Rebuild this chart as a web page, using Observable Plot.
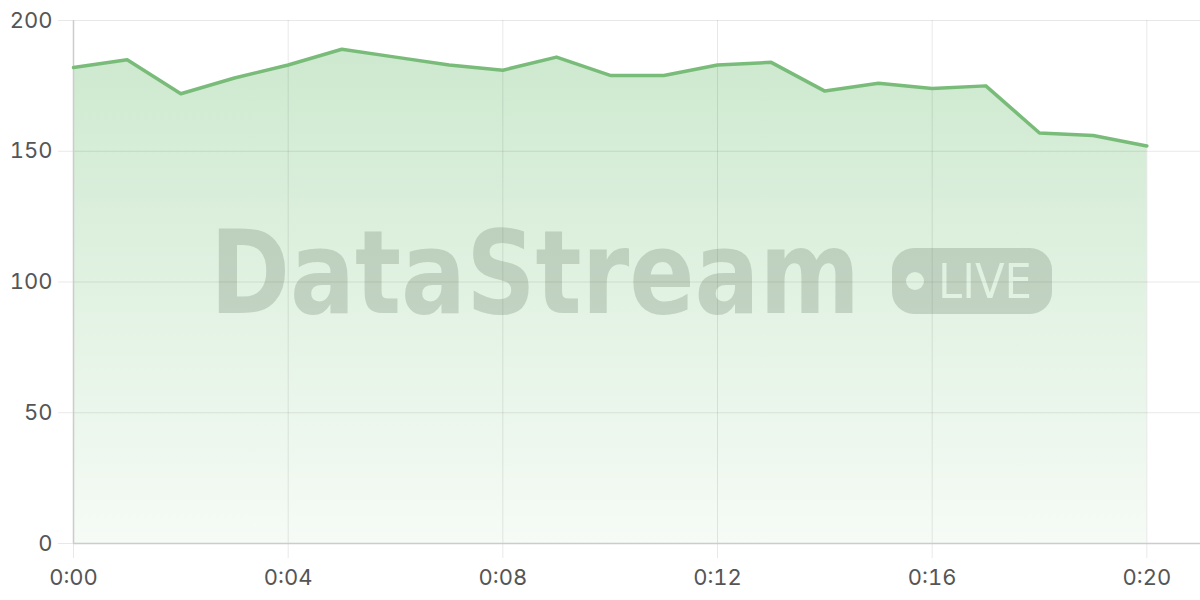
<!DOCTYPE html>
<html><head><meta charset="utf-8">
<script src="https://cdn.jsdelivr.net/npm/d3@7"></script>
<script src="https://cdn.jsdelivr.net/npm/@observablehq/plot@0.6"></script>
<style>
body{margin:0;background:#fff;}
#wrap{position:relative;width:1200px;height:600px;}
#wm{position:absolute;left:0;top:0;pointer-events:none;}
</style>
</head><body>
<div id="wrap"></div>
<script>
const minutes = [0,1,2,3,4,5,6,7,8,9,10,11,12,13,14,15,16,17,18,19,20];
const values = [182,185,172,178,183,189,186,183,181,186,179,179,183,184,173,176,174,175,157,156,152];
const xTicks = [0,4,8,12,16,20];
const yTicks = [0,50,100,150,200];
const data = minutes.map((m,i)=>({m, v: values[i]}));
const fmt = m => `0:${String(m).padStart(2,"0")}`;

const plot = Plot.plot({
  width:1200, height:600,
  marginLeft:73, marginRight:0, marginTop:20, marginBottom:57,
  style:{fontFamily:"Inter, 'Open Sans', sans-serif", fontSize:"22px", background:"#fff", overflow:"visible"},
  x:{domain:[0,21]},
  y:{domain:[0,200]},
  marks:[
    Plot.areaY(data,{x:"m", y:"v", fill:"url(#areaGrad)"}),
    Plot.gridX(xTicks,{stroke:"#000", strokeOpacity:0.09}),
    Plot.gridY(yTicks,{stroke:"#000", strokeOpacity:0.09}),
    Plot.axisX(xTicks,{tickSize:15, tickPadding:11, tickFormat:fmt, stroke:"#000", strokeOpacity:0.09, fill:"#555", label:null}),
    Plot.axisY(yTicks,{tickSize:15, tickPadding:6, stroke:"#000", strokeOpacity:0.09, fill:"#555", label:null}),
    Plot.ruleX([0],{stroke:"#ccc", strokeWidth:1.5}),
    Plot.ruleY([0],{stroke:"#ccc", strokeWidth:1.5}),
    Plot.lineY(data,{x:"m", y:"v", stroke:"#79bc79", strokeWidth:3.5})
  ]
});

const y = plot.scale("y");
const defs = d3.select(plot).insert("defs",":first-child");
const g = defs.append("linearGradient").attr("id","areaGrad")
  .attr("gradientUnits","userSpaceOnUse")
  .attr("x1",0).attr("x2",0)
  .attr("y1", y.apply(200)).attr("y2", y.apply(0));
g.append("stop").attr("offset","0").attr("stop-color","#66bb6a").attr("stop-opacity",0.34);
g.append("stop").attr("offset","1").attr("stop-color","#66bb6a").attr("stop-opacity",0.06);

const wrap = document.getElementById("wrap");
wrap.appendChild(plot);

// watermark overlay
const wm = d3.select(wrap).append("svg").attr("id","wm").attr("width",1200).attr("height",600);
const mask = wm.append("defs").append("mask").attr("id","pillMask");
mask.append("rect").attr("x",0).attr("y",0).attr("width",1200).attr("height",600).attr("fill","#fff");
mask.append("circle").attr("cx",915).attr("cy",281).attr("r",9).attr("fill","#000");
mask.append("text").attr("x",938).attr("y",298).attr("textLength",94).attr("lengthAdjust","spacingAndGlyphs")
  .attr("font-family","'DejaVu Sans Condensed','DejaVu Sans',sans-serif").attr("font-size",48).attr("font-weight",500)
  .attr("fill","#000").text("LIVE");
const wmColor = "rgba(95,115,95,0.25)";
wm.append("text").attr("x",210).attr("y",313).attr("textLength",650).attr("lengthAdjust","spacingAndGlyphs")
  .attr("font-family","'DejaVu Sans Condensed','DejaVu Sans',sans-serif").attr("font-weight","bold").attr("font-size",116)
  .attr("fill",wmColor).text("DataStream");
wm.append("rect").attr("x",892).attr("y",248).attr("width",160).attr("height",66).attr("rx",22)
  .attr("fill",wmColor).attr("mask","url(#pillMask)");
</script>
</body></html>
